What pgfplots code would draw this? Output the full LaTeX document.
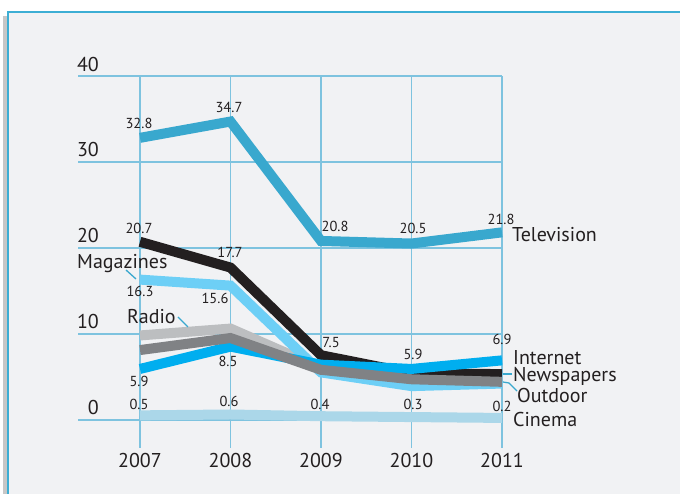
\documentclass[border=0pt]{standalone}
\usepackage{pgfplots}
\pgfplotsset{compat=1.18}
\usepackage{fontspec}
\setmainfont{PT Sans}
\definecolor{tv}{RGB}{57,168,206}
\definecolor{news}{RGB}{35,31,32}
\definecolor{mag}{RGB}{109,207,246}
\definecolor{radio}{RGB}{188,190,192}
\definecolor{outd}{RGB}{128,130,133}
\definecolor{inet}{RGB}{0,174,239}
\definecolor{cin}{RGB}{171,215,233}
\definecolor{gridc}{RGB}{126,195,223}
\definecolor{panel}{RGB}{241,242,244}
\definecolor{border}{RGB}{61,174,212}
\definecolor{txt}{RGB}{35,31,32}
\newcommand{\vfont}{\fontsize{14.5}{17}\selectfont}
\newcommand{\sfont}{\fontsize{20}{24}\selectfont}
\newcommand{\vlab}[3]{\node[anchor=base,inner sep=0pt,font=\vfont,text=txt] at (#1,494-#2) {#3};}
\newcommand{\slab}[3]{\node[anchor=base west,inner sep=0pt,font=\sfont,text=txt] at (#1,494-#2) {#3};}
\begin{document}
\begin{tikzpicture}[x=1pt,y=1pt]
\useasboundingbox (0,0) rectangle (680,494);
\fill[white] (0,0) rectangle (680,494);
\begin{scope}
\clip (0,0) rectangle (680,494);
\fill[black!22] (3,-10) rectangle (700,478);
\fill[panel] (8,-10) rectangle (700,482);
\draw[border, line width=2.5pt] (8,-10) rectangle (700,482);
\end{scope}
\begin{axis}[
  scale only axis, width=424pt, height=372pt,
  at={(78pt,46pt)}, anchor=south west,
  xmin=2006.315, xmax=2011, ymin=-3.3, ymax=40,
  xtick={2007,2008,2009,2010,2011}, ytick={0,10,20,30,40},
  grid=major, major grid style={gridc, line width=1.8pt},
  axis line style={draw=none}, major tick length=0pt,
  clip=false,
  tick label style={font=\sfont, text=txt},
  /pgf/number format/assume math mode=true,
  /pgf/number format/1000 sep={},
  yticklabel style={anchor=south east, inner sep=0pt, xshift=21pt, yshift=4.5pt},
  xticklabel style={anchor=north, inner sep=0pt, yshift=-5pt},
  every axis plot/.append style={line width=10pt, line join=miter, line cap=butt},
]
\addplot[cin] coordinates {(2007,0.5)(2008,0.6)(2009,0.4)(2010,0.3)(2011,0.2)};
\addplot[tv] coordinates {(2007,32.8)(2008,34.7)(2009,20.8)(2010,20.5)(2011,21.8)};
\addplot[radio] coordinates {(2007,9.8)(2008,10.6)(2009,6.0)(2010,4.7)(2011,4.6)};
\addplot[mag] coordinates {(2007,16.3)(2008,15.6)(2009,5.5)(2010,3.9)(2011,4.2)};
\addplot[news] coordinates {(2007,20.7)(2008,17.7)(2009,7.5)(2010,5.4)(2011,5.3)};
\addplot[inet] coordinates {(2007,5.9)(2008,8.5)(2009,6.4)(2010,5.9)(2011,6.9)};
\addplot[outd] coordinates {(2007,8.1)(2008,9.5)(2009,5.8)(2010,4.7)(2011,4.4)};
\end{axis}
% leader lines
\draw[tv, line width=1.3pt] (126,494-270) -- (136,494-279);
\draw[tv, line width=1.3pt] (178,494-317) -- (188,494-327);
\draw[tv, line width=1.5pt] (503,494-374) -- (512,494-374);
\draw[tv, line width=1.3pt] (503,494-382) -- (509,494-383) -- (517,494-391);
% series labels
\slab{512}{242}{Television}
\slab{513}{365}{Internet}
\slab{513}{382}{Newspapers}
\slab{517}{403}{Outdoor}
\slab{513}{427}{Cinema}
\slab{77}{269}{Magazines}
\slab{127}{324}{Radio}
% value labels
\vlab{139}{129}{32.8}
\vlab{229}{113}{34.7}
\vlab{335}{232}{20.8}
\vlab{413}{234}{20.5}
\vlab{501}{225}{21.8}
\vlab{139}{234}{20.7}
\vlab{230}{258}{17.7}
\vlab{331}{348}{7.5}
\vlab{140}{297}{16.3}
\vlab{215}{304}{15.6}
\vlab{139}{387}{5.9}
\vlab{228}{367}{8.5}
\vlab{413}{360}{5.9}
\vlab{502}{345}{6.9}
\vlab{139}{410}{0.5}
\vlab{229}{407}{0.6}
\vlab{320}{410}{0.4}
\vlab{413}{410}{0.3}
\vlab{502}{412}{0.2}
\end{tikzpicture}
\end{document}
